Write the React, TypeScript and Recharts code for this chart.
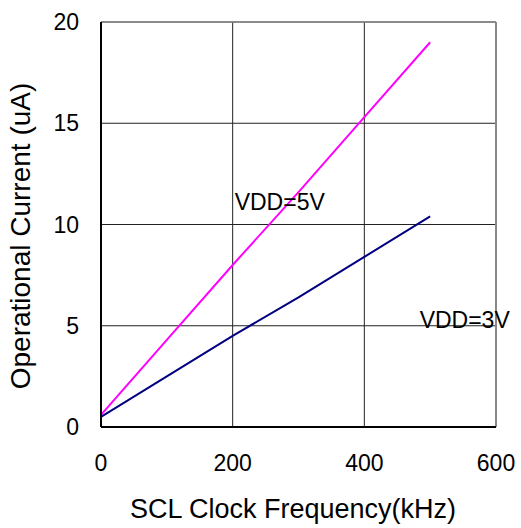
import {
  LineChart,
  Line,
  XAxis,
  YAxis,
  CartesianGrid,
  ReferenceDot,
  ReferenceLine,
  Label,
} from "recharts";

const freqs = [0, 100, 200, 300, 400, 500];
const vdd5 = [0.6, 4.3, 8.0, 11.6, 15.3, 19.0];
const vdd3 = [0.5, 2.5, 4.5, 6.4, 8.4, 10.4];
const xTicks = [0, 200, 400, 600];
const yTicks = [0, 5, 10, 15, 20];

const font = "'Liberation Sans', Arial, sans-serif";

const data = freqs.map((f, i) => ({ f, vdd5: vdd5[i], vdd3: vdd3[i] }));

const tag = (text: string) => (props: any) => {
  const { viewBox } = props;
  return (
    <text
      x={viewBox.x}
      y={viewBox.y}
      dominantBaseline="central"
      fontSize={23}
      fontFamily={font}
      fill="#000"
    >
      {text}
    </text>
  );
};

const xTitle = () => (
  <text
    x={293}
    y={509}
    textAnchor="middle"
    dominantBaseline="central"
    fontSize={27}
    fontFamily={font}
    fill="#000"
  >
    SCL Clock Frequency(kHz)
  </text>
);

const yTitle = () => (
  <text
    transform="translate(20,236) rotate(-90)"
    textAnchor="middle"
    dominantBaseline="central"
    fontSize={28}
    fontFamily={font}
    fill="#000"
  >
    Operational Current (uA)
  </text>
);

export default function App() {
  return (
    <div style={{ position: "absolute", left: 0, top: 0, background: "#fff" }}>
      <LineChart
        width={521}
        height={528}
        data={data}
        margin={{ top: 22, right: 25, left: 0, bottom: 0 }}
      >
        <CartesianGrid stroke="#222" strokeWidth={1} />
        <XAxis
          dataKey="f"
          type="number"
          domain={[0, 600]}
          ticks={xTicks}
          height={101}
          tickLine={false}
          stroke="#000"
          strokeWidth={2}
          tickMargin={22}
          tick={{ fill: "#000", fontSize: 23, fontFamily: font }}
        >
          <Label content={xTitle} />
        </XAxis>
        <YAxis
          type="number"
          domain={[0, 20]}
          ticks={yTicks}
          width={101}
          tickLine={false}
          stroke="#000"
          strokeWidth={2}
          tickMargin={16}
          tick={{ fill: "#000", fontSize: 23, fontFamily: font }}
        >
          <Label content={yTitle} />
        </YAxis>
        <ReferenceLine x={600} stroke="#888" strokeWidth={2} />
        <ReferenceLine y={20} stroke="#888" strokeWidth={1.5} />
        <Line
          dataKey="vdd5"
          stroke="#ff00ff"
          strokeWidth={2}
          dot={false}
          isAnimationActive={false}
        />
        <Line
          dataKey="vdd3"
          stroke="#000080"
          strokeWidth={2}
          dot={false}
          isAnimationActive={false}
        />
        <ReferenceDot x={203} y={11.1} r={0} label={tag("VDD=5V")} />
        <ReferenceDot x={484} y={5.3} r={0} label={tag("VDD=3V")} />
      </LineChart>
    </div>
  );
}
